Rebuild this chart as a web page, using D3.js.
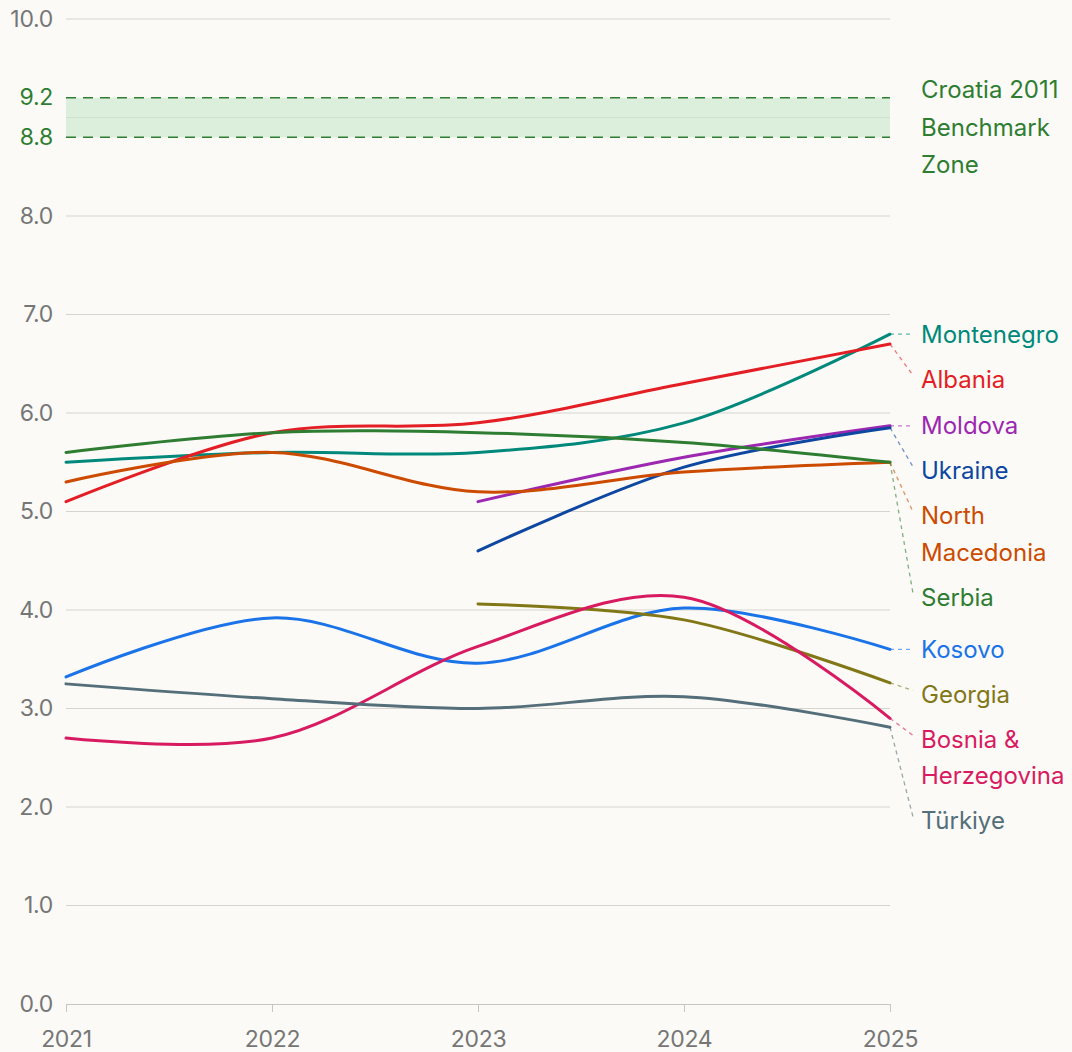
<!DOCTYPE html>
<html>
<head>
<meta charset="utf-8">
<script src="https://cdn.jsdelivr.net/npm/d3@7"></script>
<style>
body { margin: 0; background: #fbfaf6; }
svg { display: block; font-family: Inter, "Noto Sans", sans-serif; }
</style>
</head>
<body>
<svg id="chart"></svg>
<script>
var years = [2021, 2022, 2023, 2024, 2025];
var yTicks = [0, 1, 2, 3, 4, 5, 6, 7, 8, 10];
var gridTicks = [0, 1, 2, 3, 4, 5, 6, 7, 8, 9, 10];
var benchmark = [8.8, 9.2];
var benchmarkLabel = ["Croatia 2011", "Benchmark", "Zone"];

var names = ["Montenegro", "Albania", "Moldova", "Ukraine", "North Macedonia", "Serbia",
  "Kosovo", "Georgia", "Bosnia & Herzegovina", "Türkiye"];
var labelLines = [["Montenegro"], ["Albania"], ["Moldova"], ["Ukraine"], ["North", "Macedonia"],
  ["Serbia"], ["Kosovo"], ["Georgia"], ["Bosnia &", "Herzegovina"], ["Türkiye"]];
var colors = ["#00897b", "#e31e24", "#9c27b0", "#0d47a1", "#cc4b00", "#2e7d32",
  "#1a73e8", "#827717", "#d81b60", "#546e7a"];

// null = no score that year
var montenegro = [5.5, 5.6, 5.6, 5.9, 6.8];
var albania = [5.1, 5.8, 5.9, 6.3, 6.7];
var moldova = [null, null, 5.1, 5.55, 5.87];
var ukraine = [null, null, 4.6, 5.45, 5.85];
var northMacedonia = [5.3, 5.6, 5.2, 5.4, 5.5];
var serbia = [5.6, 5.8, 5.8, 5.7, 5.5];
var kosovo = [3.32, 3.92, 3.46, 4.02, 3.6];
var georgia = [null, null, 4.06, 3.9, 3.26];
var bosnia = [2.7, 2.7, 3.63, 4.13, 2.9];
var turkiye = [3.25, 3.1, 3.0, 3.12, 2.81];
var values = [montenegro, albania, moldova, ukraine, northMacedonia, serbia, kosovo, georgia, bosnia, turkiye];

var width = 1072, height = 1052;
var mLeft = 66, mRight = 890, mTop = 19, mBottom = 1004;
var grey = "#767676", benchGreen = "#2e7d32";

var svg = d3.select("#chart").attr("width", width).attr("height", height);

var x = d3.scaleLinear().domain([2021, 2025]).range([mLeft, mRight]);
var y = d3.scaleLinear().domain([0, 10]).range([mBottom, mTop]);

// benchmark band
svg.append("rect")
  .attr("x", mLeft).attr("width", mRight - mLeft)
  .attr("y", y(benchmark[1])).attr("height", y(benchmark[0]) - y(benchmark[1]))
  .attr("fill", "#dcefdc");

// grid
svg.append("g").selectAll("line")
  .data(gridTicks.filter(function(d) { return d > 0; }))
  .enter().append("line")
  .attr("x1", mLeft).attr("x2", mRight)
  .attr("y1", function(d) { return y(d); }).attr("y2", function(d) { return y(d); })
  .attr("stroke", function(d) { return d == 9 ? "#cfe0cf" : "#d6d4cf"; })
  .attr("stroke-width", 1);

svg.append("g").selectAll("line")
  .data(benchmark)
  .enter().append("line")
  .attr("x1", mLeft).attr("x2", mRight)
  .attr("y1", function(d) { return y(d); }).attr("y2", function(d) { return y(d); })
  .attr("stroke", benchGreen).attr("stroke-width", 1.6)
  .attr("stroke-dasharray", "10,7");

// y labels
var yAxis = svg.append("g")
  .attr("transform", "translate(" + (mLeft - 13) + ",0)")
  .call(d3.axisLeft(y).tickValues(yTicks).tickFormat(d3.format(".1f")).tickSize(0).tickPadding(0));
yAxis.select(".domain").remove();
yAxis.selectAll("text").attr("fill", grey).attr("font-size", 23)
  .attr("font-family", "Inter, sans-serif").attr("letter-spacing", "-0.3px");

svg.append("g").selectAll("text")
  .data(benchmark)
  .enter().append("text")
  .attr("x", mLeft - 13).attr("y", function(d) { return y(d); })
  .attr("dy", "0.32em").attr("text-anchor", "end")
  .attr("fill", benchGreen).attr("font-size", 23).attr("letter-spacing", "-0.3px")
  .text(d3.format(".1f"));

// x axis
var xAxis = svg.append("g")
  .attr("transform", "translate(0," + mBottom + ")")
  .call(d3.axisBottom(x).tickValues(years).tickFormat(d3.format("d")).tickSize(8).tickPadding(19).tickSizeOuter(0));
xAxis.select(".domain").attr("stroke", "#c8c6c0");
xAxis.selectAll(".tick line").attr("stroke", "#c8c6c0");
xAxis.selectAll("text").attr("fill", grey).attr("font-size", 23)
  .attr("font-family", "Inter, sans-serif").attr("letter-spacing", "-0.3px");

// lines
var line = d3.line()
  .x(function(d) { return x(d[0]); })
  .y(function(d) { return y(d[1]); })
  .curve(d3.curveCatmullRom);

var series = names.map(function(n, i) {
  return { name: n, color: colors[i], lines: labelLines[i],
    pts: years.map(function(yr, j) { return [yr, values[i][j]]; })
      .filter(function(p) { return p[1] != null; }) };
});

svg.append("g").selectAll("path")
  .data(series)
  .enter().append("path")
  .attr("d", function(d) { return line(d.pts); })
  .attr("fill", "none")
  .attr("stroke", function(d) { return d.color; })
  .attr("stroke-width", 3)
  .attr("stroke-linecap", "round");

// end labels, pushed down so they don't overlap
var gap = 45, lineH = 36.5;
var lastVal = function(s) { return s.pts[s.pts.length - 1][1]; };
var sorted = series.slice().sort(function(a, b) { return lastVal(b) - lastVal(a); });
var prev = -Infinity;
sorted.forEach(function(s) {
  s.endY = y(lastVal(s));
  s.labelY = Math.max(s.endY, prev + gap);
  prev = s.labelY + (s.lines.length - 1) * lineH;
});

var lab = svg.append("g").selectAll("g")
  .data(series)
  .enter().append("g");

lab.append("line")
  .attr("x1", mRight).attr("y1", function(d) { return d.endY; })
  .attr("x2", mRight + 23).attr("y2", function(d) { return d.labelY - (d.labelY - d.endY > 3 ? 4 : 0); })
  .attr("stroke", function(d) { return d.color; })
  .attr("stroke-opacity", 0.6)
  .attr("stroke-width", 1.3)
  .attr("stroke-dasharray", "4,4");

lab.each(function(d) {
  var t = d3.select(this).append("text")
    .attr("fill", d.color).attr("font-size", 24);
  d.lines.forEach(function(l, i) {
    t.append("tspan").attr("x", mRight + 31).attr("y", d.labelY + i * lineH)
      .attr("dy", "0.35em").text(l);
  });
});

var bt = svg.append("text").attr("fill", benchGreen).attr("font-size", 24);
benchmarkLabel.forEach(function(l, i) {
  bt.append("tspan").attr("x", mRight + 31).attr("y", 90 + i * 37.5).attr("dy", "0.35em").text(l);
});
</script>
</body>
</html>
